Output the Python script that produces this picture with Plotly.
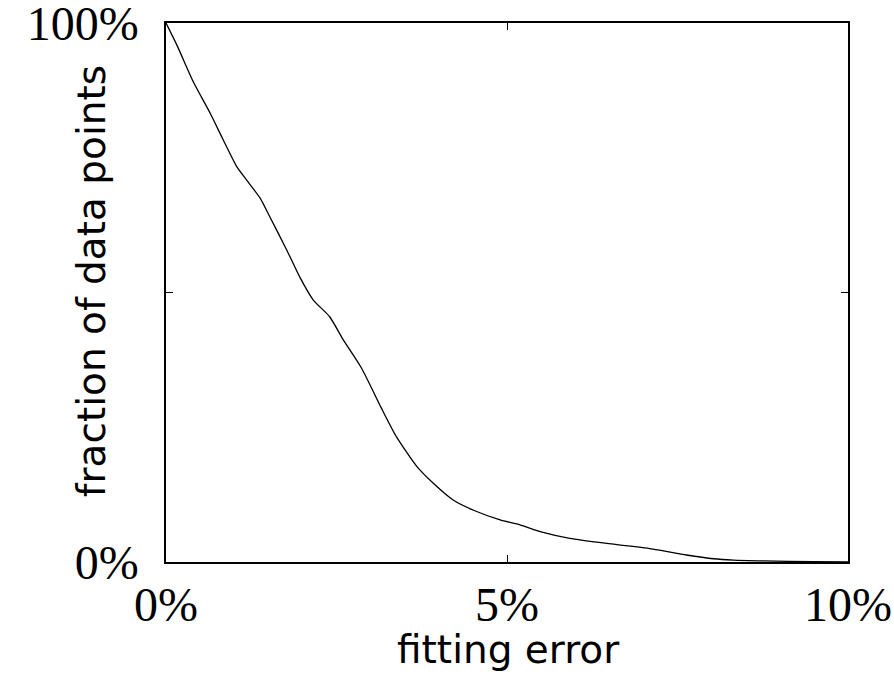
import plotly.graph_objects as go

# Data (fitting error in %, fraction of data points in %)
fitting_error = [0, 0.16, 0.40, 0.65, 0.84, 1.04, 1.18, 1.38, 1.52, 1.77, 1.96, 2.16,
                 2.40, 2.60, 2.87, 3.16, 3.38, 3.68, 3.92, 4.21, 4.51, 4.90, 5.19,
                 5.50, 5.92, 6.56, 7.14, 7.63, 8.03, 8.32, 8.76, 9.5, 10.0]
fraction_points = [100, 95.9, 89.1, 83.2, 78.3, 73.3, 70.9, 67.5, 64.1, 57.9, 52.9, 48.6,
                   45.5, 41.2, 35.9, 28.5, 23.2, 17.7, 14.6, 11.5, 9.6, 7.8, 6.9,
                   5.6, 4.4, 3.3, 2.4, 1.3, 0.6, 0.35, 0.2, 0.05, 0.0]

x_tickvals = [0, 5, 10]
x_ticktext = ["0%", "5%", "10%"]
y_tickvals = [0, 50, 100]
y_ticktext = ["0%", "", "100%"]

fig = go.Figure()
fig.add_trace(go.Scatter(
    x=fitting_error, y=fraction_points, mode="lines",
    line=dict(color="black", width=1.3, shape="spline", smoothing=0.6),
    showlegend=False, hoverinfo="skip",
))

tick_font = dict(family="Liberation Serif", size=48, color="black")
title_font = dict(family="DejaVu Sans", size=39, color="black")

fig.update_layout(
    width=894, height=674,
    margin=dict(l=166, r=46, t=23, b=112),
    paper_bgcolor="white", plot_bgcolor="white",
    xaxis=dict(
        range=[0, 10], tickvals=x_tickvals, ticktext=x_ticktext,
        ticks="inside", ticklen=7, tickwidth=1, tickcolor="black",
        showline=True, linecolor="black", linewidth=1.5, mirror="ticks",
        showgrid=False, zeroline=False, tickfont=tick_font,
        ticklabelstandoff=0, automargin=False, ticklabeloverflow="allow",
    ),
    yaxis=dict(
        range=[0, 100], tickvals=y_tickvals, ticktext=y_ticktext,
        ticks="inside", ticklen=7, tickwidth=1, tickcolor="black",
        showline=True, linecolor="black", linewidth=1.5, mirror="ticks",
        showgrid=False, zeroline=False, tickfont=tick_font,
        ticklabelstandoff=16, automargin=False, ticklabeloverflow="allow",
    ),
    annotations=[
        dict(text="fraction of data points", textangle=-90,
             xref="paper", yref="paper", x=-0.11, y=0.521,
             xanchor="center", yanchor="middle", showarrow=False, font=title_font),
        dict(text="fitting error",
             xref="paper", yref="paper", x=0.502, y=-0.162,
             xanchor="center", yanchor="middle", showarrow=False, font=title_font),
    ],
)

fig.write_html("out.html")
